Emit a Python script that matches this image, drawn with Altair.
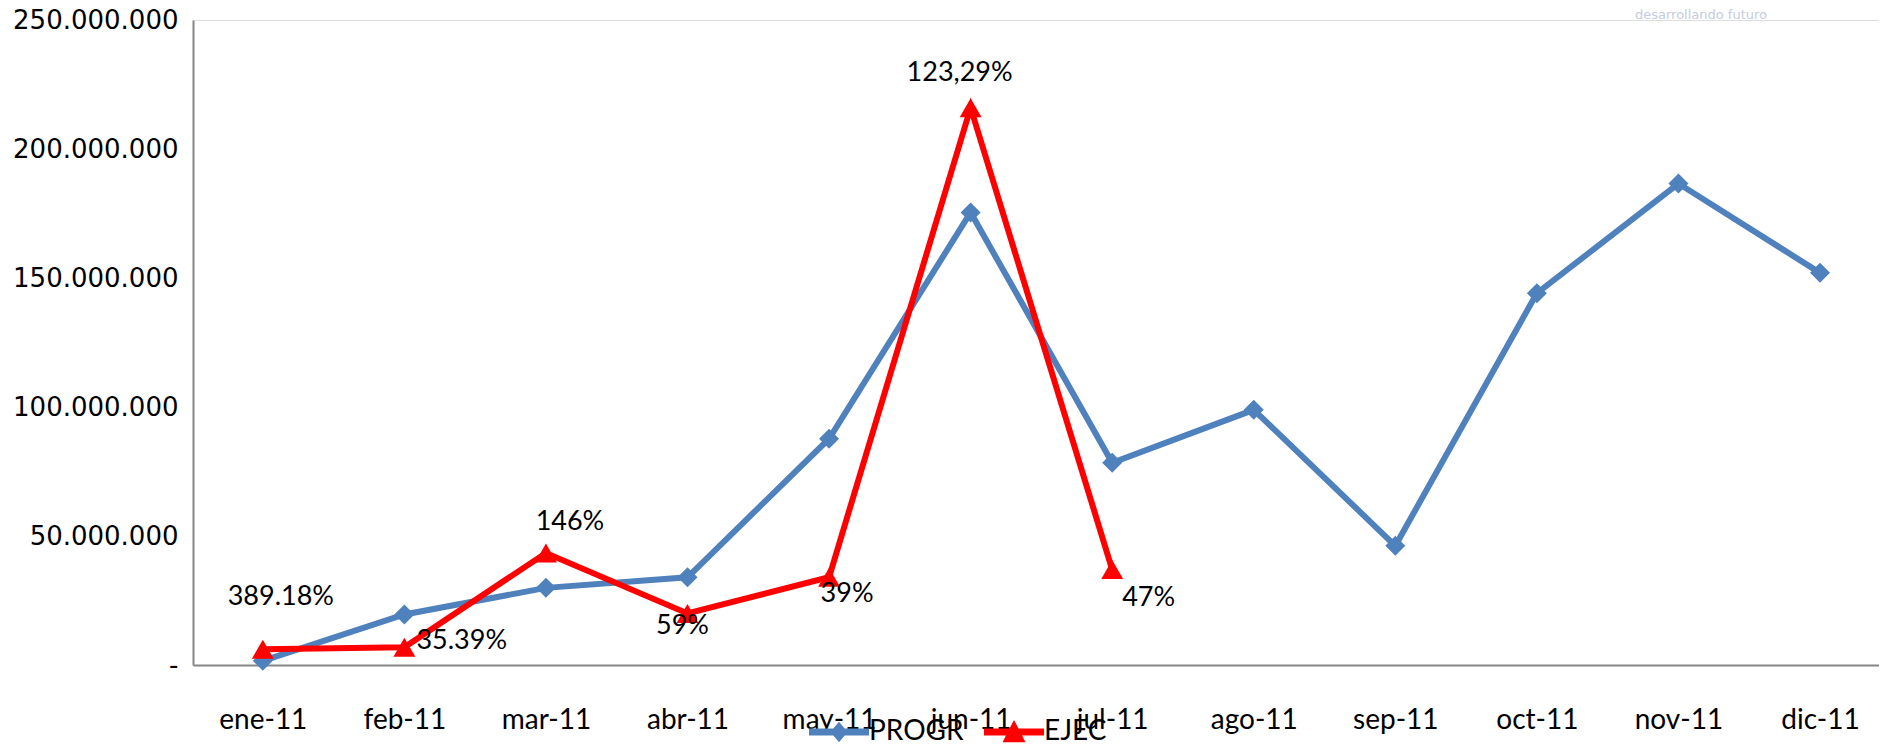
import altair as alt
import pandas as pd

# ---- data ----
months = ["ene-11", "feb-11", "mar-11", "abr-11", "may-11", "jun-11",
          "jul-11", "ago-11", "sep-11", "oct-11", "nov-11", "dic-11"]
progr = [1.6e6, 19.6e6, 29.9e6, 34.0e6, 87.7e6, 175.4e6,
         78.4e6, 98.9e6, 46.2e6, 144.1e6, 186.6e6, 152.0e6]
ejec_months = ["ene-11", "feb-11", "mar-11", "abr-11", "may-11", "jun-11", "jul-11"]
ejec = [6.1e6, 6.9e6, 43.4e6, 20.0e6, 34.0e6, 216.0e6, 37.0e6]
pct_labels = ["389.18%", "35.39%", "146%", "59%", "39%", "123,29%", "47%"]
series_names = ["PROGR", "EJEC"]
y_ticks = [0, 50e6, 100e6, 150e6, 200e6, 250e6]

df_p = pd.DataFrame({"month": months, "value": progr, "series": "PROGR"})
df_e = pd.DataFrame({"month": ejec_months, "value": ejec, "series": "EJEC", "label": pct_labels})

# ---- styles ----
BLUE = "#4F81BD"
RED = "#FF0000"
TXT_FONT = "Lato"
# label offsets (dx, dy, align) per month - style only
label_style = {
    "ene-11": (18, -52, "center"),
    "feb-11": (12, -6, "left"),
    "mar-11": (24, -31, "center"),
    "abr-11": (-5, 13, "center"),
    "may-11": (18, 17, "center"),
    "jun-11": (-11, -35, "center"),
    "jul-11": (10, 28, "left"),
}

x_enc = alt.X("month:N", sort=months, title=None,
              scale=alt.Scale(type="point", domain=months, padding=0.455, align=0.542),
              axis=alt.Axis(labelAngle=0, ticks=False, tickSize=0, labelPadding=41,
                            labelFont=TXT_FONT, labelFontSize=28, labelColor="#000000",
                            domainColor="#868686", domainWidth=2, grid=False))
y_enc = alt.Y("value:Q", title=None,
              scale=alt.Scale(domain=[0, 250e6], nice=False, zero=True),
              axis=alt.Axis(values=y_ticks, ticks=False,
                            tickSize=0, labelPadding=15, grid=False,
                            labelFont="DejaVu Sans", labelFontSize=26, labelColor="#000000",
                            domainColor="#868686", domainWidth=2,
                            labelExpr="datum.value == 0 ? '-\u00a0\u00a0' : replace(format(datum.value, ','), regexp(',', 'g'), '.')"))

base_p = alt.Chart(df_p)
base_e = alt.Chart(df_e)

line_p = base_p.mark_line(color=BLUE, strokeWidth=6).encode(x=x_enc, y=y_enc)
pts_p = base_p.mark_point(shape="diamond", filled=True, color=BLUE, size=400, opacity=1).encode(x=x_enc, y=y_enc)
line_e = base_e.mark_line(color=RED, strokeWidth=6).encode(x=x_enc, y=y_enc)
pts_e = base_e.mark_point(shape="triangle-up", filled=True, color=RED, size=480, opacity=1).encode(x=x_enc, y=y_enc)

label_layers = []
for m, (dx, dy, al) in label_style.items():
    label_layers.append(
        base_e.transform_filter(alt.datum.month == m)
        .mark_text(dx=dx, dy=dy, align=al, baseline="middle", font=TXT_FONT,
                   fontSize=27, color="#000000")
        .encode(x=x_enc, y=y_enc, text="label:N")
    )

path_progr = ("M-1,-0.12L-0.19,-0.12L0,-0.34L0.19,-0.12L1,-0.12L1,0.12"
              "L0.19,0.12L0,0.34L-0.19,0.12L-1,0.12Z")
path_ejec = ("M-1,-0.12L-0.15,-0.12L0,-0.4L0.15,-0.12L1,-0.12L1,0.12"
             "L0.27,0.12L0.38,0.34L-0.38,0.34L-0.27,0.12L-1,0.12Z")

leg = dict(title=None, orient="none", direction="horizontal",
           legendX=616, legendY=682, labelFont=TXT_FONT,
           labelFontSize=28, labelColor="#000000", symbolSize=3600,
           labelOffset=0, columnPadding=20, symbolStrokeWidth=0)

legend_layer = base_p.transform_filter("false").mark_point(
    filled=True, size=3600, opacity=1, strokeWidth=0
).encode(
    x=x_enc, y=y_enc,
    color=alt.Color("series:N", scale=alt.Scale(domain=series_names, range=[BLUE, RED]),
                    legend=alt.Legend(**leg)),
    shape=alt.Shape("series:N", scale=alt.Scale(domain=series_names, range=[path_progr, path_ejec]),
                    legend=alt.Legend(**leg)),
)

logo = alt.Chart(pd.DataFrame({"t": ["desarrollando futuro"]})).mark_text(
    font="DejaVu Sans", fontSize=13, color="#c5cbe0", align="center", baseline="middle"
).encode(x=alt.value(1508), y=alt.value(-5), text="t:N")

chart = alt.layer(line_p, pts_p, line_e, pts_e, *label_layers, legend_layer, logo).properties(
    width=1686, height=645,
    autosize=alt.AutoSizeParams(type="none"),
    padding={"left": 185, "top": 12, "right": 0, "bottom": 78},
).configure_view(strokeWidth=0, stroke="transparent").configure(background="#ffffff")

chart.save("out.html", embed_options={"renderer": "svg", "actions": False})
